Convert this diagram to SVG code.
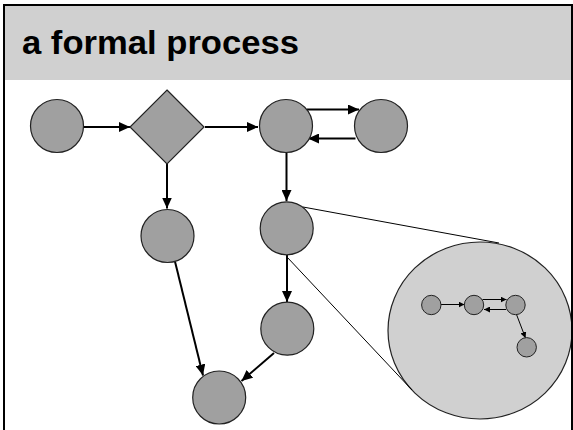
<svg xmlns="http://www.w3.org/2000/svg" width="573" height="430" viewBox="0 0 573 430">
<defs>
<marker id="ah" markerUnits="userSpaceOnUse" markerWidth="11" markerHeight="10" refX="11" refY="5" orient="auto"><path d="M0,0 L11,5 L0,10 z" fill="#000"/></marker>
<marker id="ahs" markerUnits="userSpaceOnUse" markerWidth="6" markerHeight="6" refX="6" refY="3" orient="auto"><path d="M0,0 L6,3 L0,6 z" fill="#000"/></marker>
</defs>
<style>
.node{fill:#a0a0a0;stroke:#222;stroke-width:1.2}
.mini{fill:#a0a0a0;stroke:#222;stroke-width:1}
.edge{stroke:#000;stroke-width:2;fill:none;marker-end:url(#ah)}
.medge{stroke:#000;stroke-width:1;fill:none;marker-end:url(#ahs)}
.zoom{stroke:#000;stroke-width:1;fill:none}
.title{font-family:"Liberation Sans",Arial,sans-serif;font-weight:bold;font-size:34px;fill:#000}
</style>
<rect x="0" y="0" width="573" height="430" fill="#fff"/>
<rect x="4" y="5" width="568" height="75" fill="#d0d0d0"/>
<text class="title" x="22" y="54" textLength="277" lengthAdjust="spacingAndGlyphs">a formal process</text>

<g id="zoom-lens">
<ellipse cx="480" cy="330.5" rx="92" ry="88.5" fill="#d0d0d0" stroke="#222" stroke-width="1.2"/>
<line class="zoom" x1="303" y1="207" x2="499" y2="243"/>
<line class="zoom" x1="287" y1="257" x2="412" y2="390"/>
</g>

<g id="connectors">
<line class="edge" x1="83" y1="127" x2="130" y2="127"/>
<line class="edge" x1="205" y1="127" x2="258" y2="127"/>
<line class="edge" x1="307" y1="109.5" x2="359" y2="109.5"/>
<line class="edge" x1="355.5" y1="138.5" x2="308" y2="138.5"/>
<line class="edge" x1="167" y1="164" x2="167" y2="208.5"/>
<line class="edge" x1="286.5" y1="153" x2="286.5" y2="201"/>
<line class="edge" x1="287" y1="255" x2="287" y2="302"/>
<line class="edge" x1="175" y1="261.5" x2="203" y2="375.5"/>
<line class="edge" x1="274" y1="353" x2="241.5" y2="381"/>
<line class="medge" x1="441" y1="304.5" x2="464.5" y2="304.5"/>
<line class="medge" x1="482.5" y1="299.5" x2="506.5" y2="299.5"/>
<line class="medge" x1="506" y1="309.5" x2="484" y2="309.5"/>
<line class="medge" x1="516.5" y1="314.5" x2="525.5" y2="338"/>
</g>

<g id="n-start"><circle class="node" cx="57" cy="126" r="26.5"/></g>
<g id="n-decision"><path class="node" d="M167,90 L204,127 L167,164 L130,127 z"/></g>
<g id="n-c"><circle class="node" cx="286" cy="126" r="26.5"/></g>
<g id="n-d"><circle class="node" cx="381" cy="126" r="26.5"/></g>
<g id="n-e"><circle class="node" cx="286.7" cy="228.3" r="26.5"/></g>
<g id="n-f"><circle class="node" cx="167.5" cy="236" r="26.5"/></g>
<g id="n-g"><circle class="node" cx="287.3" cy="328.7" r="26.5"/></g>
<g id="n-h"><circle class="node" cx="219.2" cy="397.5" r="26.5"/></g>

<g id="m1"><circle class="mini" cx="431.3" cy="305" r="9.7"/></g>
<g id="m2"><circle class="mini" cx="474" cy="305" r="9.7"/></g>
<g id="m3"><circle class="mini" cx="515.5" cy="305" r="9.7"/></g>
<g id="m4"><circle class="mini" cx="526.7" cy="347.3" r="9.7"/></g>

<rect x="4" y="5" width="568" height="440" fill="none" stroke="#000" stroke-width="2"/>
</svg>
